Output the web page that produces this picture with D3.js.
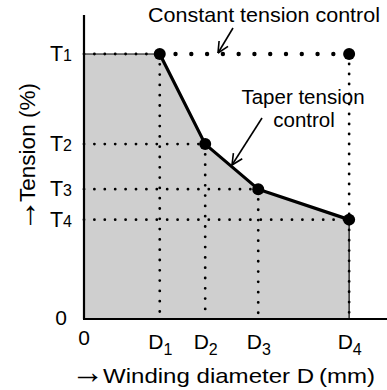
<!DOCTYPE html>
<html>
<head>
<meta charset="utf-8">
<script src="https://cdn.jsdelivr.net/npm/d3@7"></script>
<style>
  html, body { margin: 0; padding: 0; background: #fff; }
  svg { display: block; }
  text { font-family: "Liberation Sans", Arial, sans-serif; fill: #000; }
</style>
</head>
<body>
<script>
// Winding diameter breakpoints (percent of axis span) and the tension at each
const diameters = [25, 40, 57.5, 87.5];
const tensions = [100, 66, 49, 37.5];
const diameterSubs = ["1", "2", "3", "4"];
const tensionSubs = ["1", "2", "3", "4"];
const arrowGlyph = "\u2192";
const xTitle = "Winding diameter D\u2009(mm)";
const yTitle = "Tension (%)";
const constantNote = "Constant tension control";
const taperNote = ["Taper tension", "control"];

const W = 387, H = 390;
const svg = d3.select("body").append("svg").attr("width", W).attr("height", H);

const x = d3.scaleLinear().domain([0, 100]).range([84, 387]);
const y = d3.scaleLinear().domain([0, 100]).range([319, 54]);
const yTop = 114.7;

const pts = diameters.map((d, i) => [d, tensions[i]]);
const dMax = diameters[diameters.length - 1];
const tMax = tensions[0];

// shaded region under the taper curve
const area = [[0, 0], [0, tMax], ...pts, [dMax, 0]];
svg.append("path")
  .attr("d", d3.line().x(d => x(d[0])).y(d => y(d[1]))(area) + "Z")
  .attr("fill", "#cfcfcf")
  .attr("stroke", "#000")
  .attr("stroke-width", 1.2);

// dotted guide lines
function dotted(x1, y1, x2, y2, gap, w) {
  svg.append("line")
    .attr("x1", x1).attr("y1", y1).attr("x2", x2).attr("y2", y2)
    .attr("stroke", "#000")
    .attr("stroke-width", w)
    .attr("stroke-linecap", "round")
    .attr("stroke-dasharray", `0 ${gap}`);
}
// horizontal guides from the axis to each point
pts.forEach(p => dotted(x(0), y(p[1]), x(p[0]), y(p[1]), 10.4, 2.8));
// vertical guides from each point down to the axis
pts.forEach(p => dotted(x(p[0]), y(p[1]), x(p[0]), y(0), 10.3, 2.8));
// constant-tension line and its end drop
dotted(x(diameters[0]), y(tMax), x(dMax), y(tMax), (x(dMax) - x(diameters[0])) / 12, 4.4);
dotted(x(dMax), y(tMax), x(dMax), y(tensions[3]), 10, 2.8);

// taper curve
svg.append("path")
  .attr("d", d3.line().x(d => x(d[0])).y(d => y(d[1]))(pts))
  .attr("fill", "none")
  .attr("stroke", "#000")
  .attr("stroke-width", 3.2)
  .attr("stroke-linejoin", "round");

// axes
svg.append("line")
  .attr("x1", x(0)).attr("y1", y(yTop)).attr("x2", x(0)).attr("y2", y(0))
  .attr("stroke", "#000").attr("stroke-width", 2.2);
svg.append("line")
  .attr("x1", x(0) - 1).attr("y1", y(0)).attr("x2", x(100)).attr("y2", y(0))
  .attr("stroke", "#000").attr("stroke-width", 2.2);

// markers
svg.selectAll("circle.pt")
  .data([...pts, [dMax, tMax]])
  .join("circle")
  .attr("class", "pt")
  .attr("cx", d => x(d[0])).attr("cy", d => y(d[1]))
  .attr("r", 6)
  .attr("fill", "#000");

// y tick labels
svg.append("text")
  .attr("x", 67).attr("y", y(0) + 6)
  .attr("text-anchor", "end")
  .attr("font-size", 21)
  .text("0");
tensions.forEach((t, i) => {
  const tx = svg.append("text")
    .attr("x", 72).attr("y", y(t) + 7)
    .attr("text-anchor", "end")
    .attr("font-size", 21.5);
  tx.append("tspan").text("T");
  tx.append("tspan").attr("font-size", 16).text(tensionSubs[i]);
});

// x tick labels
svg.append("text")
  .attr("x", x(0)).attr("y", 345)
  .attr("text-anchor", "middle")
  .attr("font-size", 21)
  .text("0");
diameters.forEach((d, i) => {
  const tx = svg.append("text")
    .attr("x", x(d) - 11.5).attr("y", 349)
    .attr("font-size", 21);
  tx.append("tspan").text("D");
  tx.append("tspan").attr("font-size", 16).attr("dy", 6).text(diameterSubs[i]);
});

// axis titles
svg.append("text")
  .attr("x", 71).attr("y", 383)
  .attr("font-size", 33)
  .text(arrowGlyph);
svg.append("text")
  .attr("x", 103).attr("y", 383)
  .attr("font-size", 21)
  .attr("textLength", 272)
  .attr("lengthAdjust", "spacingAndGlyphs")
  .text(xTitle);

svg.append("text")
  .attr("transform", `translate(36,232) rotate(-90)`)
  .attr("font-size", 33)
  .text(arrowGlyph);
svg.append("text")
  .attr("transform", `translate(35,202) rotate(-90)`)
  .attr("font-size", 21.5)
  .attr("textLength", 119)
  .attr("lengthAdjust", "spacingAndGlyphs")
  .text(yTitle);

// annotations with pointer arrows
function pointer(x1, y1, x2, y2) {
  svg.append("line")
    .attr("x1", x1).attr("y1", y1).attr("x2", x2).attr("y2", y2)
    .attr("stroke", "#000").attr("stroke-width", 1.6);
  const a = Math.atan2(y2 - y1, x2 - x1);
  const len = 12, spread = 0.45;
  [a + Math.PI - spread, a + Math.PI + spread].forEach(b => {
    svg.append("line")
      .attr("x1", x2).attr("y1", y2)
      .attr("x2", x2 + len * Math.cos(b)).attr("y2", y2 + len * Math.sin(b))
      .attr("stroke", "#000").attr("stroke-width", 1.6);
  });
}
svg.append("text")
  .attr("x", 148).attr("y", 22)
  .attr("font-size", 21)
  .attr("textLength", 232)
  .attr("lengthAdjust", "spacingAndGlyphs")
  .text(constantNote);
pointer(233, 28, 218, 53);

svg.append("text")
  .attr("x", 303).attr("y", 104)
  .attr("text-anchor", "middle")
  .attr("font-size", 20.5)
  .text(taperNote[0]);
svg.append("text")
  .attr("x", 304).attr("y", 127)
  .attr("text-anchor", "middle")
  .attr("font-size", 20.5)
  .text(taperNote[1]);
pointer(262, 118, 232, 165);
</script>
</body>
</html>
